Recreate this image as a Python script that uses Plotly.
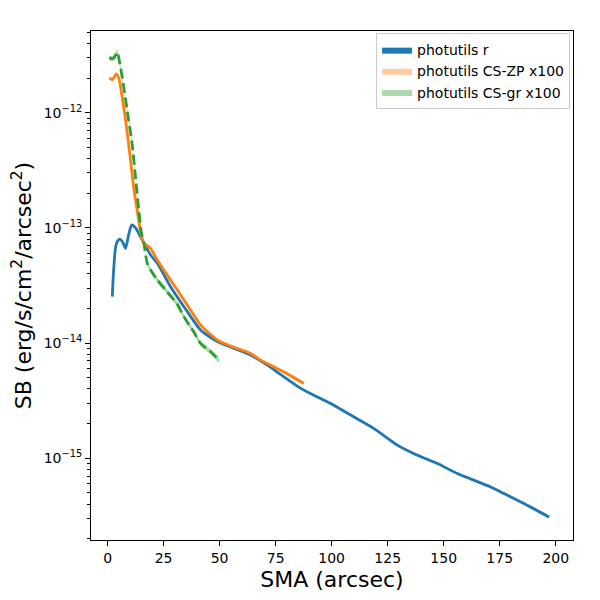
import plotly.graph_objects as go

# ---- data ----
r_sma = [2.1, 2.7, 3.6, 4.5, 5.5, 6.7, 8.0, 9.4, 10.7, 12.5, 14.7, 19.2, 22.2, 28.1,
         34.1, 41.5, 49.0, 56.4, 63.8, 71.3, 78.7, 86.2, 93.6, 99.6, 108.5, 118.9,
         129.3, 138.3, 147.2, 156.1, 171.0, 176.9, 185.8, 197.0]
r_sb = [2.53e-14, 4.31e-14, 6.87e-14, 7.71e-14, 7.98e-14, 7.55e-14, 6.65e-14, 8.69e-14,
        1.06e-13, 1.0e-13, 8.39e-14, 5.82e-14, 4.93e-14, 3.09e-14, 2.07e-14, 1.30e-14,
        1.03e-14, 9.0e-15, 7.87e-15, 6.44e-15, 5.09e-15, 4.04e-15, 3.41e-15, 2.99e-15,
        2.37e-15, 1.81e-15, 1.30e-15, 1.06e-15, 8.99e-16, 7.36e-16, 5.63e-16, 4.93e-16,
        4.04e-16, 3.09e-16]

zp_sma = [0.8, 2.1, 3.1, 4.0, 5.0, 6.6, 8.5, 10.3, 11.7, 13.3, 14.7, 16.2, 19.2, 22.2,
          28.1, 34.1, 41.5, 49.0, 54.9, 63.8, 68.3, 78.7, 87.6]
zp_sb = [2.0e-12, 1.94e-12, 2.07e-12, 2.17e-12, 2.0e-12, 1.34e-12, 7.36e-13, 3.78e-13,
         2.21e-13, 1.39e-13, 9.29e-14, 7.36e-14, 6.65e-14, 5.27e-14, 3.53e-14, 2.37e-14,
         1.44e-14, 1.06e-14, 9.42e-15, 8.13e-15, 7.11e-15, 5.62e-15, 4.47e-15]

gr_sma = [0.8, 1.8, 2.8, 3.6, 4.3, 5.0, 6.6, 8.8, 11.0, 12.5, 14.0, 15.0, 16.2, 17.7,
          19.2, 22.2, 26.7, 31.1, 34.1, 38.5, 41.5, 46.0, 49.7]
gr_sb = [3.03e-12, 2.95e-12, 2.99e-12, 3.19e-12, 3.37e-12, 2.99e-12, 2.0e-12, 1.03e-12,
         5.27e-13, 2.70e-13, 1.39e-13, 9.29e-14, 7.36e-14, 4.93e-14, 4.31e-14, 3.53e-14,
         2.77e-14, 2.18e-14, 1.69e-14, 1.25e-14, 9.93e-15, 8.4e-15, 7.11e-15]

# relative half-width of the shaded uncertainty bands
r_band_frac = 0.02
zp_band_frac = 0.03
gr_band_frac = 0.05

labels = ["photutils r", "photutils CS-ZP x100", "photutils CS-gr x100"]
colors = ["#1f77b4", "#ff7f0e", "#2ca02c"]
band_rgba = ["rgba(31,119,180,1.0)", "rgba(255,127,14,0.4)", "rgba(44,160,44,0.4)"]

ytick_vals = [1e-15, 1e-14, 1e-13, 1e-12]
ytick_text = ["10<sup>\u221215</sup>", "10<sup>\u221214</sup>",
              "10<sup>\u221213</sup>", "10<sup>\u221212</sup>"]
xtick_vals = [0, 25, 50, 75, 100, 125, 150, 175, 200]

series = [(r_sma, r_sb, r_band_frac), (zp_sma, zp_sb, zp_band_frac), (gr_sma, gr_sb, gr_band_frac)]

fig = go.Figure()

for i, (xs, ys, f) in enumerate(series):
    lo = [v * (1 - f) for v in ys]
    hi = [v * (1 + f) for v in ys]
    fig.add_trace(go.Scatter(
        x=list(xs) + list(xs)[::-1], y=hi + lo[::-1],
        fill="toself", fillcolor=band_rgba[i], mode="lines",
        line=dict(width=0, color=band_rgba[i], shape="spline", smoothing=0.6),
        name=labels[i], showlegend=True, hoverinfo="skip"))

dashes = ["solid", "solid", "10px,4.5px"]
for i, (xs, ys, f) in enumerate(series):
    fig.add_trace(go.Scatter(
        x=xs, y=ys, mode="lines",
        line=dict(color=colors[i], width=2.8, dash=dashes[i], shape="spline", smoothing=0.6),
        showlegend=False, name=labels[i]))

minor_vals = [m * 10.0 ** k for k in range(-16, -11) for m in range(2, 10)]

# the page body adds an 8px offset, so the figure is 592x592 with shifted margins
fig.update_layout(
    width=592, height=592,
    margin=dict(l=83, r=27, t=23, b=60, autoexpand=False),
    paper_bgcolor="white", plot_bgcolor="white",
    font=dict(family="DejaVu Sans", color="black", size=14),
    legend=dict(x=0.994, y=0.996, xanchor="right", yanchor="top",
                bgcolor="rgba(255,255,255,0.8)", bordercolor="#cccccc", borderwidth=1,
                font=dict(size=14, family="DejaVu Sans"), tracegroupgap=4),
    xaxis=dict(range=[-7.4, 207.7], tickmode="array", tickvals=xtick_vals,
               automargin=False,
               showgrid=False, zeroline=False, showline=True, linecolor="black",
               linewidth=1, mirror=True, ticks="outside", ticklen=5, tickwidth=1,
               tickcolor="black", tickfont=dict(size=14),
               title=dict(text="SMA (arcsec)", font=dict(size=22), standoff=6)),
    yaxis=dict(type="log", range=[-15.71, -11.29], tickmode="array",
               tickvals=ytick_vals, ticktext=ytick_text, automargin=False,
               showgrid=False, zeroline=False, showline=True, linecolor="black",
               linewidth=1, mirror=True, ticks="outside", ticklen=5, tickwidth=1,
               tickcolor="black", tickfont=dict(size=14),
               minor=dict(tickmode="array", tickvals=minor_vals, ticks="outside",
                          ticklen=3, tickwidth=1, tickcolor="black", showgrid=False),
               title=dict(text="SB (erg/s/cm<sup>2</sup>/arcsec<sup>2</sup>)",
                          font=dict(size=22), standoff=6)),
)

fig.write_html("out.html")
